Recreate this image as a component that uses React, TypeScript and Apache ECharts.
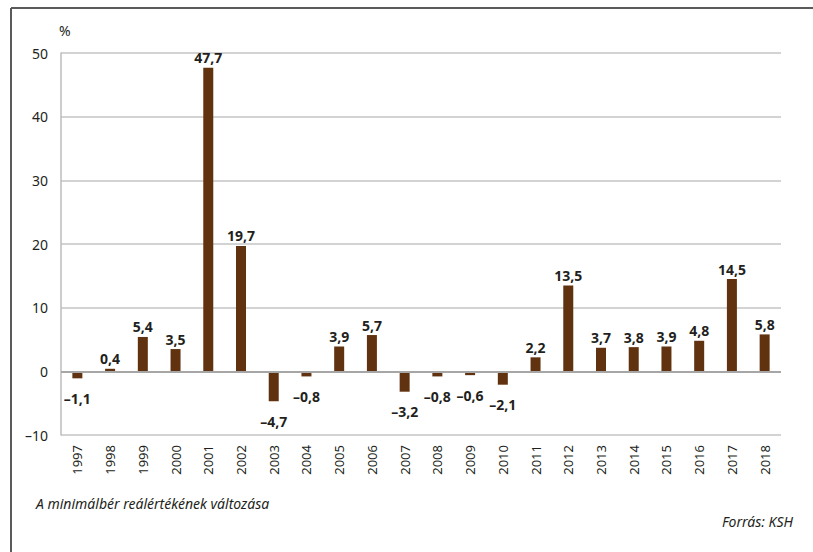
import React, { useEffect, useRef } from "react";
import * as echarts from "echarts";

const years = ["1997","1998","1999","2000","2001","2002","2003","2004","2005","2006","2007","2008","2009","2010","2011","2012","2013","2014","2015","2016","2017","2018"];
const values = [-1.1, 0.4, 5.4, 3.5, 47.7, 19.7, -4.7, -0.8, 3.9, 5.7, -3.2, -0.8, -0.6, -2.1, 2.2, 13.5, 3.7, 3.8, 3.9, 4.8, 14.5, 5.8];
const yTicks = { min: -10, max: 50, interval: 10 };
const unitLabel = "%";
const caption = "A minimálbér reálértékének változása";
const source = "Forrás: KSH";

const FONT = "'Noto Sans', 'Open Sans', sans-serif";
const TEXT = "#231f20";

function fmt(v: number): string {
  const s = Math.abs(v).toFixed(1).replace(".", ",");
  return v < 0 ? "\u2013" + s : s;
}

export default function App() {
  const ref = useRef<HTMLDivElement>(null);
  useEffect(() => {
    if (!ref.current) return;
    const chart = echarts.init(ref.current, null, { renderer: "svg" });
    chart.setOption({
      animation: false,
      backgroundColor: "#ffffff",
      grid: { left: 61, right: 32, top: 53, bottom: 117 },
      xAxis: {
        type: "category",
        data: years,
        axisLine: { show: false },
        axisTick: { show: false },
        axisLabel: {
          rotate: 90,
          margin: 10,
          fontFamily: FONT,
          fontSize: 13,
          color: TEXT,
        },
      },
      yAxis: {
        type: "value",
        min: yTicks.min,
        max: yTicks.max,
        interval: yTicks.interval,
        axisLine: { show: true, lineStyle: { color: "#bdbdbd", width: 1.5 } },
        axisTick: { show: false },
        splitLine: { lineStyle: { color: "#c4c4c4", width: 1.5 } },
        axisLabel: {
          margin: 13,
          fontFamily: FONT,
          fontSize: 14,
          color: TEXT,
          formatter: (v: number) => (v < 0 ? "\u2013" + Math.abs(v) : String(v)),
        },
      },
      series: [
        {
          type: "bar",
          barWidth: 10,
          itemStyle: { color: "#61320f" },
          data: values.map((v) => ({
            value: v,
            label: { distance: v < 0 ? 13 : 3 },
          })),
          label: {
            show: true,
            position: "outside",
            fontFamily: FONT,
            fontSize: 14,
            fontWeight: "bold",
            color: TEXT,
            formatter: (p: any) => fmt(p.value),
          },
          markLine: {
            silent: true,
            symbol: "none",
            label: { show: false },
            lineStyle: { color: "#a6a6a6", width: 2, type: "solid" },
            data: [{ yAxis: 0 }],
          },
        },
      ],
      graphic: [
        { type: "line", shape: { x1: 11, y1: 8, x2: 11, y2: 552 }, style: { stroke: "#5a5a5a", lineWidth: 2 } },
        { type: "line", shape: { x1: 11, y1: 8, x2: 813, y2: 8 }, style: { stroke: "#5a5a5a", lineWidth: 2 } },
        { type: "text", left: 59, top: 23, style: { text: unitLabel, font: `14px ${FONT}`, fill: TEXT } },
        { type: "text", left: 36, top: 496, style: { text: caption, font: `italic 14px ${FONT}`, fill: TEXT } },
        { type: "text", right: 20, top: 514, style: { text: source, font: `italic 14px ${FONT}`, fill: TEXT } },
      ],
    });
    return () => chart.dispose();
  }, []);
  return <div ref={ref} style={{ position: "fixed", left: 0, top: 0, width: 813, height: 552 }} />;
}
